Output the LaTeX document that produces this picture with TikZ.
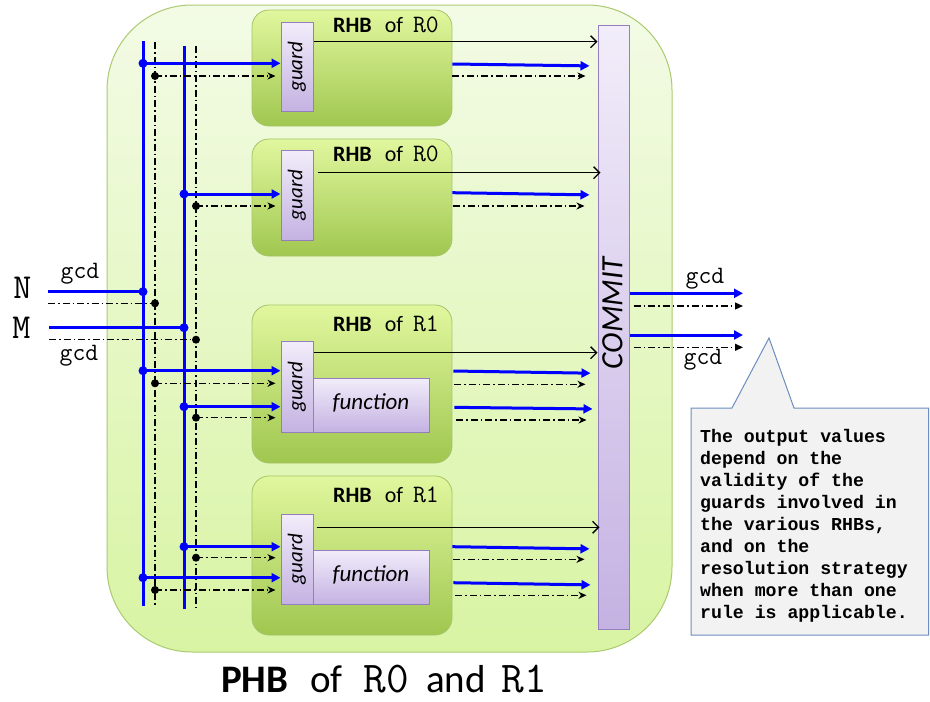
\documentclass[tikz,border=0pt]{standalone}
\usepackage{fontspec}
\setmainfont{Carlito}
\newfontfamily\notefont{Liberation Mono}
\usetikzlibrary{arrows.meta,calc}

% palette
\definecolor{phbtop}{RGB}{243,251,230}
\definecolor{phbbot}{RGB}{216,244,163}
\definecolor{phbline}{RGB}{172,202,112}
\definecolor{rhbtop}{RGB}{225,247,158}
\definecolor{rhbbot}{RGB}{160,199,80}
\definecolor{rhbline}{RGB}{165,196,105}
\definecolor{gtop}{RGB}{242,237,250}
\definecolor{gbot}{RGB}{196,178,226}
\definecolor{gline}{RGB}{150,125,192}
\definecolor{notefill}{RGB}{242,242,242}
\definecolor{noteline}{RGB}{108,142,191}
\definecolor{wire}{RGB}{0,0,255}

\tikzset{
  phbbox/.style={draw=phbline, line width=1pt, top color=phbtop, bottom color=phbbot,
                 rounded corners=85pt, inner sep=0pt},
  rhbbox/.style={draw=rhbline, line width=0.8pt, top color=rhbtop, bottom color=rhbbot,
                 rounded corners=17pt, inner sep=0pt, minimum width=200pt},
  unit/.style={draw=gline, line width=1pt, top color=gtop, bottom color=gbot, inner sep=0pt},
  datapath/.style={wire, line width=3pt},
  data/.style={datapath, -{Triangle[length=9pt,width=9pt]}},
  ctrlpath/.style={black, line width=1.2pt, dash pattern=on 7pt off 3pt on 1.5pt off 3pt},
  ctrl/.style={ctrlpath, -{Stealth[length=8pt,width=7pt,inset=2.5pt]}},
  ctrlout/.style={ctrlpath, -{Triangle[length=8pt,width=7pt]}},
  check/.style={black, line width=1.3pt, -{Straight Barb[length=6pt,width=12pt]}},
  title/.style={anchor=base west, inner sep=0pt, font=\fontsize{22}{26}\selectfont},
  guardlbl/.style={rotate=90, inner sep=0pt, font=\fontsize{21}{24}\selectfont\itshape},
  funlbl/.style={inner sep=0pt, font=\fontsize{23}{26}\selectfont\itshape},
  sig/.style={anchor=base, inner sep=0pt, font=\ttfamily\fontsize{25}{28}\selectfont},
  port/.style={anchor=base, inner sep=0pt, font=\ttfamily\fontsize{35}{38}\selectfont},
  notetext/.style={anchor=north west, inner sep=0pt, align=left,
                   font=\notefont\bfseries\fontsize{18.2}{22.1}\selectfont},
}

\newcommand{\rulename}[1]{{\ttfamily\fontsize{25}{28}\selectfont #1}}
\newcommand{\bigrulename}[1]{{\ttfamily\fontsize{44}{48}\selectfont #1}}

\begin{document}
\begin{tikzpicture}[x=1pt,y=-1pt]
\useasboundingbox (0,0) rectangle (930,702);
\fill[white] (0,0) rectangle (930,702);

% parallel hardware block
\node[phbbox, minimum width=565pt, minimum height=647pt] (phb) at (389.5,328.5) {};

% rule hardware blocks
\node[rhbbox, minimum height=116pt] (r1) at (352,68) {};
\node[rhbbox, minimum height=117pt] (r2) at (352,197.5) {};
\node[rhbbox, minimum height=158pt] (r3) at (352,384) {};
\node[rhbbox, minimum height=159pt] (r4) at (352,555.5) {};

\node[title] (t1) at (333,32.5)  {\textbf{RHB}\hspace{13pt}of\hspace{10pt}\rulename{R0}};
\node[title] (t2) at (333,161.5) {\textbf{RHB}\hspace{13pt}of\hspace{10pt}\rulename{R0}};
\node[title] (t3) at (333,331.5) {\textbf{RHB}\hspace{13pt}of\hspace{10pt}\rulename{R1}};
\node[title] (t4) at (333,502)   {\textbf{RHB}\hspace{13pt}of\hspace{10pt}\rulename{R1}};

% function units and guards
\node[unit, minimum width=116pt, minimum height=54pt] (f3) at (371,405) {};
\node[unit, minimum width=116pt, minimum height=54pt] (f4) at (371,577) {};
\node[unit, minimum width=32pt, minimum height=89pt] (g1) at (297,66.5) {};
\node[unit, minimum width=32pt, minimum height=90pt] (g2) at (297,195) {};
\node[unit, minimum width=32pt, minimum height=91pt] (g3) at (297,386.5) {};
\node[unit, minimum width=32pt, minimum height=90pt] (g4) at (297,559) {};

\node[guardlbl] (gl1) at (g1) {guard};
\node[guardlbl] (gl2) at (g2) {guard};
\node[guardlbl] (gl3) at (g3) {guard};
\node[guardlbl] (gl4) at (g4) {guard};
\node[funlbl] (fl3) at (371,403) {function};
\node[funlbl] (fl4) at (371,575) {function};

% commit unit
\node[unit, minimum width=31pt, minimum height=604pt] (commit) at (613.5,327) {};
\node[rotate=90, inner sep=0pt, font=\fontsize{31}{36}\selectfont\itshape] (cl) at (612.5,313) {COMMIT};

% bus ends
\coordinate (busAt) at (143,41);  \coordinate (busAb) at (143,606);
\coordinate (ctlAt) at (155,42);  \coordinate (ctlAb) at (155,605);
\coordinate (busBt) at (184,46);  \coordinate (busBb) at (184,609);
\coordinate (ctlBt) at (196,46);  \coordinate (ctlBb) at (196,608);

% junctions on the data buses
\coordinate (jA1) at (143,63.3);  \coordinate (jB2) at (184,194);
\coordinate (jN)  at (143,291.7); \coordinate (jM)  at (184,327.7);
\coordinate (jA3) at (143,370.7); \coordinate (jB3) at (184,406.7);
\coordinate (jB4) at (184,546.7); \coordinate (jA4) at (143,577.7);
% junctions on the valid buses
\coordinate (kA1) at (155,76);    \coordinate (kB2) at (196,206);
\coordinate (kN)  at (155,303.3); \coordinate (kM)  at (196,339.7);
\coordinate (kA3) at (155,383.3); \coordinate (kB3) at (196,417.7);
\coordinate (kB4) at (196,557.7); \coordinate (kA4) at (155,590);

% external inputs
\coordinate (nIn)  at (48,291.7); \coordinate (nCtl) at (48,303.3);
\coordinate (mIn)  at (49,327.7); \coordinate (mCtl) at (49,339.7);

% external outputs
\coordinate (o1) at (743,293.3); \coordinate (o1c) at (743,306);
\coordinate (o2) at (743,335);   \coordinate (o2c) at (743,347.3);

% buses
\draw[ctrlpath] (ctlAt) -- (ctlAb);
\draw[ctrlpath] (ctlBt) -- (ctlBb);
\draw[datapath] (busAt) -- (busAb);
\draw[datapath] (busBt) -- (busBb);

% inputs to the buses
\draw[ctrlpath] (nCtl) -- (kN);
\draw[ctrlpath] (mCtl) -- (kM);
\draw[datapath] (nIn) -- (jN);
\draw[datapath] (mIn) -- (jM);

% buses into the guards
\draw[ctrl, shorten >=5pt] (kA1) -- (g1.west |- kA1);
\draw[ctrl, shorten >=5pt] (kB2) -- (g2.west |- kB2);
\draw[ctrl, shorten >=5pt] (kA3) -- (g3.west |- kA3);
\draw[ctrl, shorten >=5pt] (kB3) -- (g3.west |- kB3);
\draw[ctrl, shorten >=5pt] (kB4) -- (g4.west |- kB4);
\draw[ctrl, shorten >=5pt] (kA4) -- (g4.west |- kA4);
\draw[data] (jA1) -- (g1.west |- jA1);
\draw[data] (jB2) -- (g2.west |- jB2);
\draw[data] (jA3) -- (g3.west |- jA3);
\draw[data] (jB3) -- (g3.west |- jB3);
\draw[data] (jB4) -- (g4.west |- jB4);
\draw[data] (jA4) -- (g4.west |- jA4);

% guard results to commit
\draw[check] (g1.east |- 0,41.7) -- (commit.west |- 0,41.7);
\draw[check, shorten <=4pt, shorten >=-3pt] (g2.east |- 0,172.7) -- (commit.west |- 0,172.7);
\draw[check] (g3.east |- 0,352.7) -- (commit.west |- 0,352.7);
\draw[check, shorten <=3pt, shorten >=-2pt] (g4.east |- 0,527.3) -- (commit.west |- 0,527.3);

% rule results to commit
\draw[data, shorten >=8pt] (r1.east |- 0,64) -- (commit.west |- 0,66);
\draw[ctrl, shorten >=12pt] (r1.east |- 0,76) -- (commit.west |- 0,76);
\draw[data, shorten >=8pt] (r2.east |- 0,192.7) -- (commit.west |- 0,195);
\draw[ctrl, shorten <=1pt, shorten >=13pt] (r2.east |- 0,206) -- (commit.west |- 0,206);
\draw[data, shorten <=1pt, shorten >=7pt] (r3.east |- 0,371) -- (commit.west |- 0,373.3);
\draw[ctrl, shorten <=2pt, shorten >=12pt] (r3.east |- 0,384.3) -- (commit.west |- 0,384.3);
\draw[data, shorten <=2pt, shorten >=5pt] (r3.east |- 0,407.3) -- (commit.west |- 0,409);
\draw[ctrl, shorten <=4pt, shorten >=11pt] (r3.east |- 0,420) -- (commit.west |- 0,420);
\draw[data, shorten >=8pt] (r4.east |- 0,546.7) -- (commit.west |- 0,549);
\draw[ctrl, shorten <=1pt, shorten >=13pt] (r4.east |- 0,559.3) -- (commit.west |- 0,559.3);
\draw[data, shorten <=1pt, shorten >=7pt] (r4.east |- 0,582.7) -- (commit.west |- 0,585);
\draw[ctrl, shorten <=3pt, shorten >=11pt] (r4.east |- 0,595.3) -- (commit.west |- 0,595.3);

% commit outputs
\draw[data] (commit.east |- o1) -- (o1);
\draw[ctrlout, shorten <=4pt] (commit.east |- o1c) -- (o1c);
\draw[data] (commit.east |- o2) -- (o2);
\draw[ctrlout, shorten <=4pt] (commit.east |- o2c) -- (o2c);

% junction dots
\foreach \j in {jA1,jB2,jN,jM,jA3,jB3,jB4,jA4} \fill[wire] (\j) circle (4.5pt);
\foreach \k in {kA1,kB2,kN,kM,kA3,kB3,kB4,kA4} \fill[black] (\k) circle (4pt);

% port and signal names
\node[port] (lN) at (22.5,298.5) {N};
\node[port] (lM) at (21.5,338.5) {M};
\node[sig] (gN) at (80,278) {gcd};
\node[sig] (gM) at (79,360) {gcd};
\node[sig] (g01) at (705,283) {gcd};
\node[sig] (g02) at (703,364) {gcd};

% note
\draw[draw=noteline, fill=notefill, line width=1pt]
  (691,408) -- (732,408) -- (769,338) -- (794,408) -- (928.5,408)
  -- (928.5,635) -- (691,635) -- cycle;
\node[notetext] (note) at (700,428.7) {The output values\\depend on the\\validity of the\\guards involved in\\the various RHBs,\\and on the\\resolution strategy\\when more than one\\rule is applicable.};

% caption
\node[anchor=base west, inner sep=0pt, font=\fontsize{39}{44}\selectfont] (caption) at (221,692)
  {\textbf{PHB}\hspace{22pt}of\hspace{21pt}\bigrulename{R0}\hspace{17pt}and\hspace{16pt}\bigrulename{R1}};
\end{tikzpicture}
\end{document}
